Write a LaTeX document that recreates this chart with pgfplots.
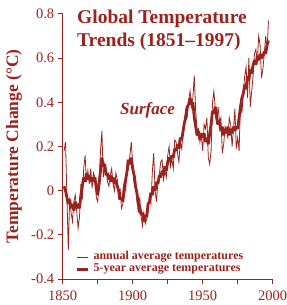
\documentclass[border=0pt]{standalone}
\usepackage{pgfplots}
\usepackage{pgfplotstable}
\pgfplotsset{compat=1.18}
\usepackage{fontspec}
\setmainfont{Liberation Serif}
\definecolor{mr}{RGB}{155,35,30}

\pgfplotstableread{
year val
1851 0.18
1852 0.22
1853 -0.02
1854 -0.27
1855 -0.03
1856 -0.10
1857 -0.14
1858 -0.05
1859 -0.02
1860 -0.09
1861 -0.17
1862 -0.12
1863 0.03
1864 -0.04
1865 0.10
1866 0.16
1867 0.04
1868 0.09
1869 0.03
1870 0.10
1871 0.01
1872 0.08
1873 0.06
1874 -0.03
1875 -0.05
1876 0.04
1877 0.18
1878 0.27
1879 0.06
1880 0.12
1881 0.10
1882 0.04
1883 0.02
1884 0.07
1885 0.10
1886 0.03
1887 0.00
1888 0.08
1889 0.05
1890 -0.04
1891 0.01
1892 -0.08
1893 -0.06
1894 0.03
1895 0.00
1896 0.13
1897 0.10
1898 0.16
1899 0.22
1900 0.12
1901 0.04
1902 0.06
1903 -0.04
1904 -0.10
1905 -0.03
1906 -0.12
1907 -0.16
1908 -0.10
1909 -0.15
1910 -0.13
1911 -0.09
1912 -0.02
1913 -0.06
1914 0.08
1915 0.17
1916 0.00
1917 -0.05
1918 0.04
1919 0.07
1920 0.13
1921 0.14
1922 0.05
1923 0.09
1924 0.06
1925 0.16
1926 0.20
1927 0.11
1928 0.14
1929 0.10
1930 0.23
1931 0.22
1932 0.17
1933 0.13
1934 0.22
1935 0.19
1936 0.26
1937 0.33
1938 0.37
1939 0.34
1940 0.41
1941 0.45
1942 0.38
1943 0.42
1944 0.52
1945 0.36
1946 0.27
1947 0.28
1948 0.22
1949 0.25
1950 0.18
1951 0.30
1952 0.28
1953 0.33
1954 0.15
1955 0.12
1956 0.18
1957 0.40
1958 0.45
1959 0.37
1960 0.30
1961 0.38
1962 0.31
1963 0.33
1964 0.17
1965 0.21
1966 0.29
1967 0.27
1968 0.24
1969 0.33
1970 0.30
1971 0.20
1972 0.28
1973 0.37
1974 0.19
1975 0.24
1976 0.18
1977 0.40
1978 0.35
1979 0.44
1980 0.52
1981 0.56
1982 0.42
1983 0.60
1984 0.38
1985 0.45
1986 0.52
1987 0.62
1988 0.64
1989 0.58
1990 0.70
1991 0.66
1992 0.51
1993 0.55
1994 0.62
1995 0.70
1996 0.64
1997 0.77
}\annual

\pgfplotstableread{
year val
1851 0.02
1852 0.00
1853 -0.03
1854 -0.06
1855 -0.04
1856 -0.08
1857 -0.06
1858 -0.09
1859 -0.05
1860 -0.08
1861 -0.06
1862 -0.08
1863 -0.02
1864 0.02
1865 0.06
1866 0.04
1867 0.08
1868 0.05
1869 0.07
1870 0.04
1871 0.06
1872 0.05
1873 0.06
1874 0.01
1875 -0.02
1876 0.03
1877 0.09
1878 0.15
1879 0.11
1880 0.12
1881 0.07
1882 0.08
1883 0.05
1884 0.07
1885 0.04
1886 0.06
1887 0.03
1888 0.05
1889 0.02
1890 0.00
1891 -0.04
1892 -0.03
1893 -0.05
1894 0.02
1895 0.05
1896 0.09
1897 0.14
1898 0.12
1899 0.15
1900 0.10
1901 0.07
1902 0.02
1903 -0.01
1904 -0.06
1905 -0.07
1906 -0.11
1907 -0.10
1908 -0.14
1909 -0.11
1910 -0.12
1911 -0.06
1912 -0.05
1913 -0.01
1914 -0.02
1915 0.02
1916 0.00
1917 0.04
1918 0.03
1919 0.07
1920 0.06
1921 0.09
1922 0.07
1923 0.11
1924 0.09
1925 0.13
1926 0.15
1927 0.13
1928 0.16
1929 0.15
1930 0.19
1931 0.18
1932 0.21
1933 0.19
1934 0.24
1935 0.23
1936 0.27
1937 0.31
1938 0.33
1939 0.38
1940 0.39
1941 0.42
1942 0.39
1943 0.40
1944 0.33
1945 0.29
1946 0.25
1947 0.27
1948 0.23
1949 0.26
1950 0.24
1951 0.26
1952 0.22
1953 0.24
1954 0.21
1955 0.26
1956 0.30
1957 0.36
1958 0.35
1959 0.38
1960 0.33
1961 0.30
1962 0.31
1963 0.27
1964 0.29
1965 0.25
1966 0.28
1967 0.26
1968 0.29
1969 0.25
1970 0.28
1971 0.26
1972 0.29
1973 0.27
1974 0.29
1975 0.28
1976 0.33
1977 0.38
1978 0.42
1979 0.44
1980 0.48
1981 0.46
1982 0.52
1983 0.50
1984 0.55
1985 0.53
1986 0.57
1987 0.59
1988 0.57
1989 0.61
1990 0.59
1991 0.62
1992 0.60
1993 0.61
1994 0.63
1995 0.62
1996 0.66
1997 0.68
}\fiveyr

\begin{document}
\begin{tikzpicture}
\begin{axis}[
  name=ax,
  scale only axis, width=210pt, height=265pt,
  xmin=1850, xmax=2000, ymin=-0.4, ymax=0.8,
  clip=false,
  axis x line=bottom, axis y line=left,
  axis line style={-, draw=mr, line width=1pt},
  tick align=outside,
  xtick={1850,1900,1950,2000},
  minor xtick={1875,1925,1975},
  ytick={-0.4,-0.2,0,0.2,0.4,0.6,0.8},
  major tick length=5pt, minor tick length=5pt,
  every tick/.style={draw=mr, line width=1pt},
  minor tick style={draw=mr, line width=1pt},
  /pgf/number format/assume math mode=true,
  every tick label/.append style={text=mr, font=\fontsize{14.5}{17}\selectfont},
  xticklabel style={/pgf/number format/1000 sep={}, yshift=-3pt},
  yticklabel style={/pgf/number format/fixed, /pgf/number format/precision=1},
  legend style={at={(rel axis cs:0.061,0.058)}, anchor=west, draw=none, fill=none,
    font=\bfseries\fontsize{12}{12}\selectfont, text=mr, inner sep=0pt,
    nodes={inner sep=0pt, text height=8pt, text depth=4pt},
    /tikz/every odd column/.style={column sep=4pt}},
  legend cell align=left,
  legend image code/.code={\draw[#1] (0pt,0pt) -- (11pt,0pt);},
]
\addplot[mr, line width=0.8pt, line join=miter] table[x=year, y=val] {\annual};
\addlegendentry{annual average temperatures}
\addplot[mr, line width=2.8pt, line join=miter, miter limit=2] table[x=year, y=val] {\fiveyr};
\addlegendentry{5-year average temperatures}

\node[anchor=base west, font=\bfseries\fontsize{19.5}{23}\selectfont, text=mr, inner sep=0pt]
  at (rel axis cs:0.068,0.966) {Global Temperature};
\node[anchor=base west, font=\bfseries\fontsize{19.5}{23}\selectfont, text=mr, inner sep=0pt]
  at (rel axis cs:0.068,0.879) {Trends (1851--1997)};
\node[anchor=base west, font=\bfseries\itshape\fontsize{17}{20}\selectfont, text=mr, inner sep=0pt]
  at (rel axis cs:0.273,0.619) {Surface};
\end{axis}
\node[rotate=90, font=\bfseries\fontsize{17.5}{20}\selectfont, text=mr]
  at ([xshift=-48.7pt]ax.west) {Temperature Change (°C)};
\pgfresetboundingbox
\path[use as bounding box] ([xshift=-62.7pt,yshift=-26pt]ax.south west) rectangle ([xshift=14.3pt,yshift=14pt]ax.north east);
\end{tikzpicture}
\end{document}
